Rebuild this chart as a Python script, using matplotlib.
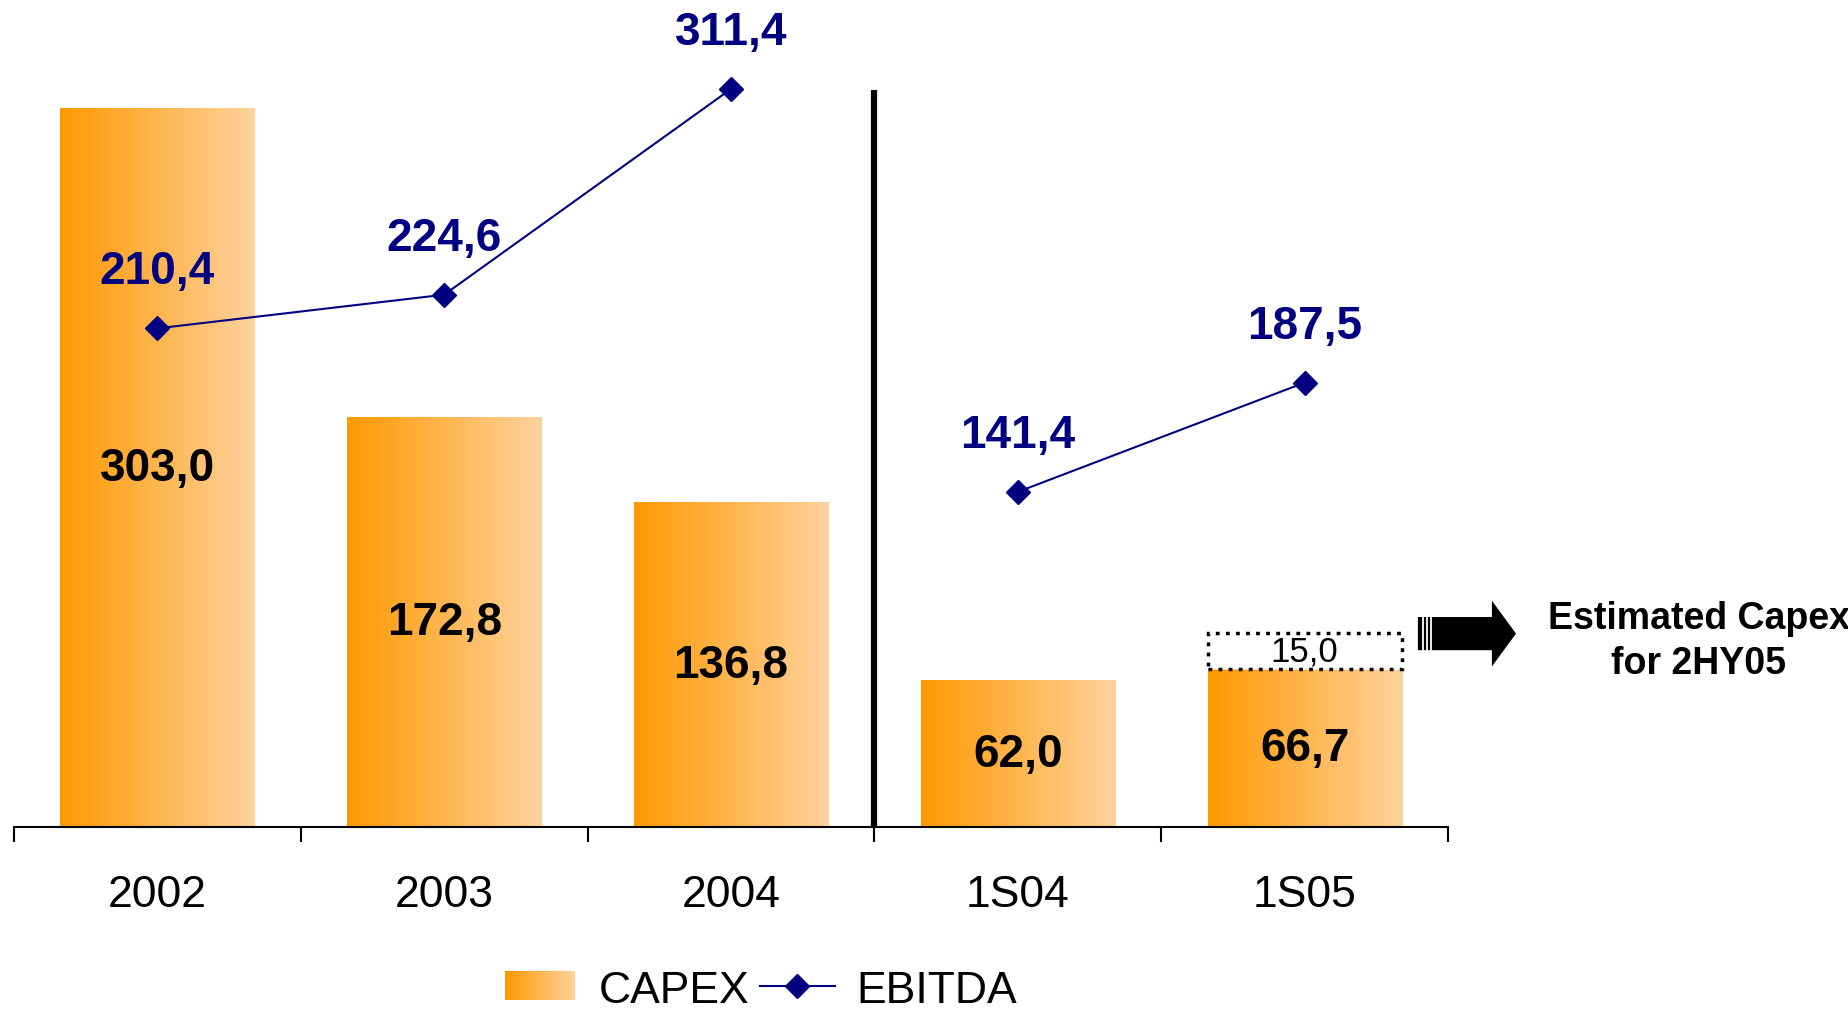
import numpy as np
import matplotlib.pyplot as plt
from matplotlib.colors import LinearSegmentedColormap
from matplotlib.patches import Polygon
from matplotlib.lines import Line2D

plt.rcParams['font.family'] = ['Liberation Sans', 'DejaVu Sans']

periods = ['2002', '2003', '2004', '1S04', '1S05']
capex = [303.0, 172.8, 136.8, 62.0, 66.7]
ebitda = [210.4, 224.6, 311.4, 141.4, 187.5]
capex_2hy05 = 15.0  # estimate, stacked on the 1S05 bar

navy = '#000080'
bar_w = 0.677
cmap = LinearSegmentedColormap.from_list('capex', ['#FF9900', '#FFD29E'])
grad = np.linspace(0, 1, 256).reshape(1, -1)


def fmt(v):
    return f'{v:.1f}'.replace('.', ',')


W, H = 1849, 1012
fig = plt.figure(figsize=(W / 100, H / 100), dpi=100)
ax = fig.add_axes([14 / W, 184 / H, 1434 / W, 828 / H])

# capex bars with horizontal gradient
for i, v in enumerate(capex):
    ax.imshow(grad, cmap=cmap, extent=(i - bar_w / 2, i + bar_w / 2, 0, v),
              aspect='auto', zorder=1, interpolation='bilinear')
    ax.text(i, v / 2, fmt(v), ha='center', va='center', fontsize=33,
            fontweight='bold', color='black', zorder=5)

# estimated second half capex
ax.bar(4, capex_2hy05, bottom=capex[4], width=bar_w, facecolor='white',
       edgecolor='black', linewidth=2.5, linestyle=(0, (1.1, 1.8)), zorder=2)
ax.text(4, capex[4] + capex_2hy05 / 2, fmt(capex_2hy05), ha='center',
        va='center', fontsize=25, color='black', zorder=5)

# separator between full years and semesters
ax.plot([2.5, 2.5], [0, 311], color='black', lw=4.5, solid_capstyle='butt',
        zorder=3)

# ebitda line, broken between years and semesters
for seg in (slice(0, 3), slice(3, 5)):
    xs = list(range(5))[seg]
    ax.plot(xs, ebitda[seg], color=navy, lw=1.5, marker='D', ms=12.5,
            zorder=4)
for i, v in enumerate(ebitda):
    ax.annotate(fmt(v), (i, v), xytext=(0, 41), textcoords='offset points',
                ha='center', va='center', fontsize=33, fontweight='bold',
                color=navy)

# block arrow pointing at the note
ay = 81.6
arrow = Polygon([(4.395, ay - 7.0), (4.653, ay - 7.0), (4.653, ay - 13.9),
                 (4.737, ay), (4.653, ay + 13.9), (4.653, ay + 7.0),
                 (4.395, ay + 7.0)], closed=True, facecolor='black',
                edgecolor='none', clip_on=False, zorder=3)
ax.add_patch(arrow)
for sx in (4.413, 4.426, 4.441):
    ax.plot([sx, sx], [ay - 7.1, ay + 7.1], color='white', lw=1.3,
            clip_on=False, zorder=4)
ax.text(5.375, 78.7, 'Estimated Capex\nfor 2HY05', ha='center', va='center',
        fontsize=27, fontweight='bold', linespacing=1.29, clip_on=False)

ax.set_xlim(-0.5, 4.5)
ax.set_ylim(0, 828 / 2.37)
for s in ('top', 'left', 'right'):
    ax.spines[s].set_visible(False)
ax.spines['bottom'].set_linewidth(1.5)
ax.set_yticks([])
ax.set_xticks(range(5))
ax.set_xticklabels(periods, fontsize=32)
ax.tick_params(axis='x', which='major', length=0, pad=34)
ax.set_xticks(np.arange(-0.5, 5, 1), minor=True)
ax.tick_params(axis='x', which='minor', length=11, width=1.5)

# legend
yl = 1 - 987 / H
yb = 1 - 1003 / H
lax = fig.add_axes([505 / W, 1 - 1001 / H, 70 / W, 29 / H])
lax.imshow(grad, cmap=cmap, aspect='auto', interpolation='bilinear')
lax.axis('off')
fig.text(599 / W, yb, 'CAPEX', fontsize=32, va='baseline', ha='left')
fig.add_artist(Line2D([760 / W, 835 / W], [yl, yl], transform=fig.transFigure,
                      color=navy, lw=1.5))
fig.add_artist(Line2D([797 / W], [yl], transform=fig.transFigure, color=navy,
                      marker='D', ms=12.5))
fig.text(856 / W, yb, 'EBITDA', fontsize=32, va='baseline', ha='left')

fig.savefig('out.png', dpi=100)
